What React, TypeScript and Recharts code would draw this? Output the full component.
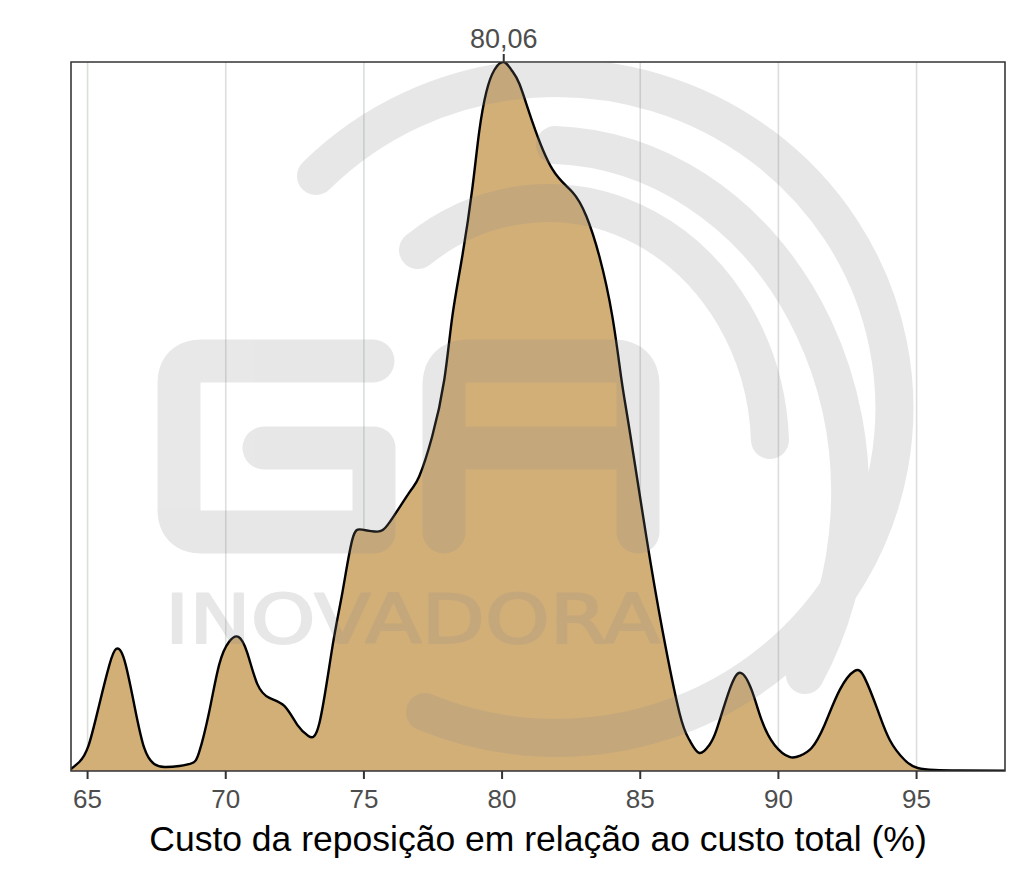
import { ComposedChart, Area, XAxis, YAxis, CartesianGrid, ReferenceArea } from "recharts";

// density curve (x in %, height in plot units)
const xValues = [
  64.4, 64.7, 65.03, 65.42, 65.79, 66.04, 66.33, 66.69, 67.05, 67.41, 67.78, 68.32, 68.79,
  69.04, 69.4, 69.76, 70.12, 70.46, 70.78, 71.14, 71.58, 72.12, 72.59, 72.99, 73.39, 73.86,
  74.22, 74.58, 74.94, 75.48, 75.92, 76.64, 77.0, 77.47, 77.91, 78.2, 78.56, 78.92, 79.17,
  79.43, 79.72, 80.06, 80.34, 80.63, 81.1, 81.82, 82.55, 83.05, 83.52, 83.99, 84.32, 84.61,
  85.22, 85.8, 86.42, 86.78, 87.14, 87.5, 87.76, 88.23, 88.63, 89.03, 89.39, 89.86, 90.4,
  90.77, 91.2, 91.67, 92.22, 92.76, 93.12, 93.59, 94.03, 94.57, 95.04, 95.66, 96.56, 98.2,
];
const densities = [
  2, 9, 25, 66, 106, 122, 111, 66, 23, 7, 4, 5, 8,
  19, 59, 106, 129, 134, 118, 87, 73, 65, 46, 35, 48, 124,
  178, 231, 241, 239, 248, 278, 294, 334, 391, 454, 514, 581, 638,
  678, 700, 708, 700, 686, 648, 601, 578, 554, 514, 454, 391, 341,
  234, 141, 58, 31, 18, 26, 41, 81, 98, 81, 51, 26, 14,
  15, 23, 46, 81, 100, 93, 61, 31, 11, 3, 1, 0.5, 0.2,
];

const xTicks = [65, 70, 75, 80, 85, 90, 95];
const peakTicks = [80.06];
const peakLabels = ["80,06"];
const xDomain = [64.4, 98.2];
const yMax = 708;
const xTitle = "Custo da reposição em relação ao custo total (%)";

const data = xValues.map((x, i) => ({ x, d: densities[i] }));

// background logo watermark ("GA INOVADORA")
const Watermark = () => (
  <svg
    width={1024}
    height={878}
    style={{ position: "absolute", left: 0, top: 0, pointerEvents: "none" }}
  >
    <defs>
      <clipPath id="panel-clip">
        <rect x={71} y={62} width={934} height={709} />
      </clipPath>
    </defs>
    <g
      clipPath="url(#panel-clip)"
      opacity={0.2}
      fill="none"
      stroke="#8a8a8a"
      strokeLinecap="round"
      strokeLinejoin="round"
    >
      <path d="M 316 176 A 338 330 0 1 1 425 712" strokeWidth={38} />
      <path d="M 555 145 A 305 348 0 0 1 805 675" strokeWidth={38} />
      <path d="M 418 250 A 222 247 0 0 1 770 440" strokeWidth={38} />
      <path
        d="M 373 361 L 202 361 Q 179 361 179 384 L 179 509 Q 179 532 202 532 L 374 532 L 374 448 L 264 448"
        strokeWidth={43}
      />
      <path
        d="M 444 532 L 444 386 Q 444 361 469 361 L 613 361 Q 638 361 638 386 L 638 532 M 444 448 L 638 448"
        strokeWidth={43}
      />
      <text
        x={165}
        y={643}
        fontSize={68}
        fontFamily="DejaVu Sans"
        textLength={495}
        lengthAdjust="spacingAndGlyphs"
        fill="#8a8a8a"
        stroke="#8a8a8a"
        strokeWidth={2}
      >
        INOVADORA
      </text>
    </g>
  </svg>
);

export default function App() {
  return (
    <div
      style={{
        position: "absolute",
        left: 0,
        top: 0,
        width: 1024,
        height: 878,
        background: "#fff",
        fontFamily: "'Liberation Sans', Arial, sans-serif",
      }}
    >
      <ComposedChart
        width={1024}
        height={878}
        data={data}
        margin={{ top: 0, right: 19, bottom: 0, left: 71 }}
      >
        <CartesianGrid horizontal={false} stroke="#dadfda" strokeWidth={1.6} />
        <XAxis
          dataKey="x"
          type="number"
          domain={xDomain}
          ticks={xTicks}
          allowDataOverflow
          height={107}
          axisLine={false}
          tickSize={8}
          tickMargin={11}
          tickLine={{ stroke: "#333", strokeWidth: 2 }}
          tick={{ fontSize: 26, fill: "#4d4d4d" }}
          label={{
            value: xTitle,
            position: "insideBottom",
            offset: 27,
            style: { fontSize: 35.5, fill: "#000" },
          }}
        />
        <XAxis
          xAxisId="top"
          orientation="top"
          dataKey="x"
          type="number"
          domain={xDomain}
          ticks={peakTicks}
          allowDataOverflow
          height={62}
          axisLine={false}
          tickSize={8}
          tickMargin={6}
          tickLine={{ stroke: "#333", strokeWidth: 2 }}
          tick={{ fontSize: 27, fill: "#4d4d4d" }}
          tickFormatter={(v: number) => peakLabels[peakTicks.indexOf(v)] ?? String(v)}
        />
        <YAxis hide domain={[0, yMax]} allowDataOverflow />
        <Area
          xAxisId="top"
          type="natural"
          dataKey="d"
          stroke="none"
          fill="none"
          isAnimationActive={false}
        />
        <Area
          type="natural"
          dataKey="d"
          stroke="#000"
          strokeWidth={2.4}
          fill="#d3af78"
          fillOpacity={1}
          isAnimationActive={false}
        />
        <ReferenceArea
          x1={xDomain[0]}
          x2={xDomain[1]}
          y1={0}
          y2={yMax}
          fill="none"
          fillOpacity={0}
          stroke="#333"
          strokeWidth={1.5}
          ifOverflow="visible"
        />
      </ComposedChart>
      <Watermark />
    </div>
  );
}
